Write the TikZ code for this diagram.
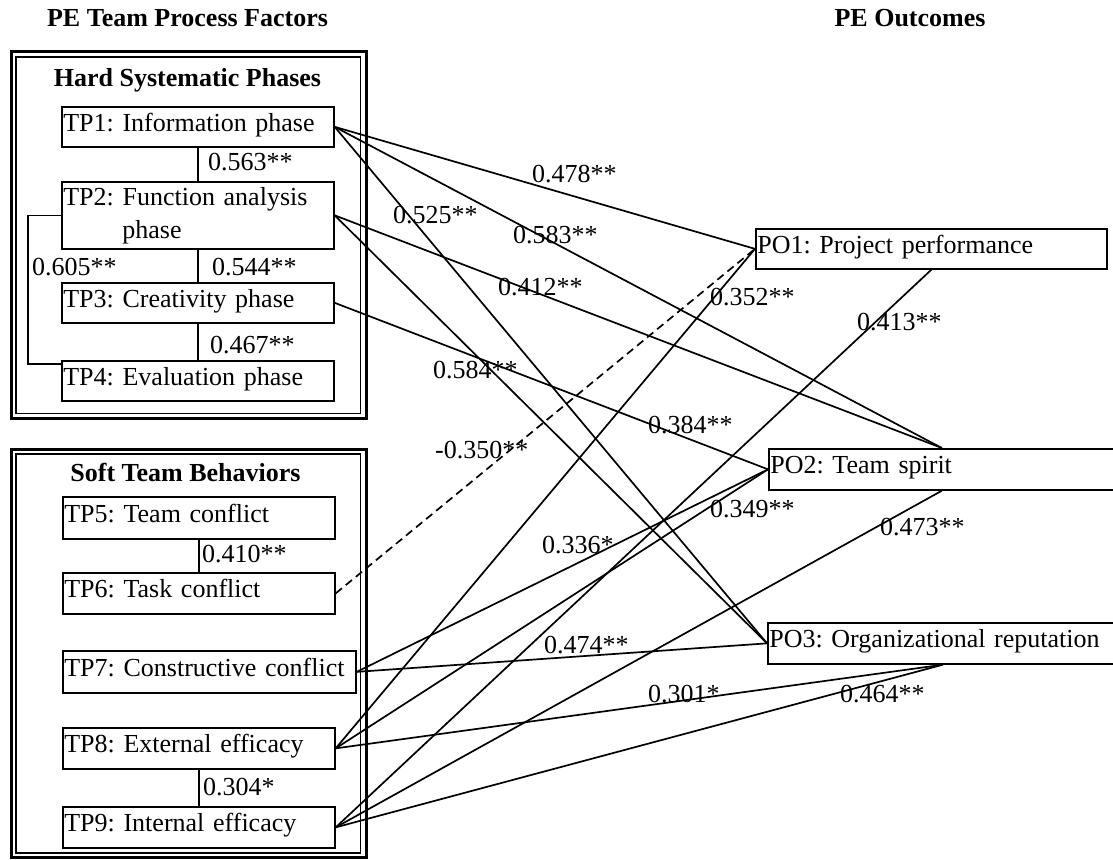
\documentclass[tikz,border=0pt]{standalone}
\usepackage{fontspec}
\setmainfont{Liberation Serif}
\frenchspacing
\begin{document}
\begin{tikzpicture}[x=1pt,y=-1pt,
  every node/.style={font=\fontsize{26}{33}\selectfont\frenchspacing},
  box/.style={draw, line width=1.7pt, rectangle, inner xsep=1.5pt, inner ysep=0pt,
    align=left, anchor=north west},
  onel/.style={text height=17pt, text depth=8pt},
  conn/.style={line width=1.7pt},
  dconn/.style={line width=1.7pt, dash pattern=on 8pt off 5pt},
  lbl/.style={anchor=base west, inner sep=0pt},
  ttl/.style={font=\fontsize{26}{33}\selectfont\bfseries, anchor=base, inner sep=0pt},
  outerline/.style={line width=2.5pt},
  innerline/.style={line width=1.5pt}]
\useasboundingbox (0,0) rectangle (1113,859);
\clip (0,0) rectangle (1113,859);

% titles
\node[ttl] (t1) at (187.5,27) {PE Team Process Factors};
\node[ttl] (t2) at (910,27) {PE Outcomes};

% group frames
\draw[outerline] (11.3,51.5) rectangle (366.5,418.5);
\draw[innerline] (16,57) rectangle (360.5,413.5);
\draw[outerline] (11.3,449.5) rectangle (366.5,857.5);
\draw[innerline] (16,454) rectangle (360.5,853);

\node[ttl] (g1) at (187.5,86) {Hard Systematic Phases};
\node[ttl] (g2) at (185.5,481) {Soft Team Behaviors};

% left boxes
\node[box,onel,minimum width=272,minimum height=40,text width=269] (tp1) at (61,106) {TP1: Information phase};
\node[box,minimum width=272,minimum height=67,text width=269] (tp2) at (61,181) {TP2: Function analysis\\\hspace*{59pt}phase};
\node[box,onel,minimum width=272,minimum height=40,text width=269] (tp3) at (61,282) {TP3: Creativity phase};
\node[box,onel,minimum width=272,minimum height=40,text width=269] (tp4) at (61,360) {TP4: Evaluation phase};

\node[box,onel,minimum width=272,minimum height=42,text width=269] (tp5) at (62,496) {TP5: Team conflict};
\node[box,onel,minimum width=272,minimum height=41,text width=269] (tp6) at (62,572) {TP6: Task conflict};
\node[box,onel,minimum width=293,minimum height=42,text width=290] (tp7) at (62,650) {TP7: Constructive conflict};
\node[box,onel,minimum width=272,minimum height=41,text width=269] (tp8) at (62,727) {TP8: External efficacy};
\node[box,onel,minimum width=272,minimum height=41,text width=269] (tp9) at (62,806) {TP9: Internal efficacy};

% right boxes
\node[box,onel,minimum width=351,minimum height=40,text width=348] (po1) at (755,228) {PO1: Project performance};
\node[box,onel,minimum width=346,minimum height=41,text width=343] (po2) at (768,448) {PO2: Team spirit};
\node[box,onel,minimum width=350,minimum height=41,text width=347] (po3) at (767,622) {PO3: Organizational reputation};

% within-group connectors
\draw[conn] (tp1.south) -- (tp2.north);
\draw[conn] (tp2.south) -- (tp3.north);
\draw[conn] (tp3.south) -- (tp4.north);
\draw[conn] (tp2.west) -- ++(-33,0) |- ([yshift=-4pt]tp4.north west);
\draw[conn] (tp5.south) -- (tp6.north);
\draw[conn] (tp8.south) -- (tp9.north);

\node[lbl] (l563) at (208,170) {0.563**};
\node[lbl] (l544) at (212,275) {0.544**};
\node[lbl] (l605) at (32,275) {0.605**};
\node[lbl] (l467) at (210,353) {0.467**};
\node[lbl] (l410) at (202,562) {0.410**};
\node[lbl] (l304) at (203,795) {0.304*};

% cross connectors
\draw[conn] (tp1.east) -- (po1.west);
\draw[conn] (tp1.east) -- (po2.north);
\draw[conn] (tp1.east) -- (po3.west);
\draw[conn] (tp2.east) -- (po2.north);
\draw[conn] (tp2.east) -- (po3.west);
\draw[conn] (tp3.east) -- (po2.west);
\draw[dconn] (tp6.east) -- (po1.west);
\draw[conn] (tp7.east) -- (po2.west);
\draw[conn] (tp7.east) -- (po3.west);
\draw[conn] (tp8.east) -- (po1.west);
\draw[conn] (tp8.east) -- (po2.west);
\draw[conn] (tp8.east) -- (po3.south);
\draw[conn] (tp9.east) -- (po1.south);
\draw[conn] (tp9.east) -- (po2.south);
\draw[conn] (tp9.east) -- (po3.south);

% cross labels
\node[lbl] (l478) at (532,182) {0.478**};
\node[lbl] (l525) at (393,223) {0.525**};
\node[lbl] (l583) at (513,243) {0.583**};
\node[lbl] (l412) at (498,295) {0.412**};
\node[lbl] (l352) at (710,305) {0.352**};
\node[lbl] (l413) at (857,330) {0.413**};
\node[lbl] (l584) at (433,378) {0.584**};
\node[lbl] (l384) at (648,433) {0.384**};
\node[lbl] (l350) at (435,458) {-0.350**};
\node[lbl] (l349) at (710,517) {0.349**};
\node[lbl] (l473) at (880,535) {0.473**};
\node[lbl] (l336) at (542,553) {0.336*};
\node[lbl] (l474) at (544,653) {0.474**};
\node[lbl] (l301) at (648,702) {0.301*};
\node[lbl] (l464) at (840,702) {0.464**};
\end{tikzpicture}
\end{document}
